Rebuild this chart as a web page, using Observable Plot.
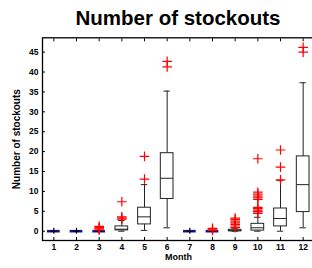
<!DOCTYPE html>
<html>
<head>
<meta charset="utf-8">
<script src="https://cdn.jsdelivr.net/npm/d3@7"></script>
<script src="https://cdn.jsdelivr.net/npm/@observablehq/plot@0.6"></script>
<style>
  html, body { margin: 0; padding: 0; background: #fff; overflow: hidden; }
  #title { font-family: "Liberation Sans", Arial, sans-serif; font-weight: bold; font-size: 20.5px;
           line-height: 30px; padding-top: 3px; padding-left: 44px; width: 268px; text-align: center; color: #000; white-space: nowrap; }
</style>
</head>
<body>
<div id="title">Number of stockouts</div>
<div id="chart"></div>
<script>
const months = [1, 2, 3, 4, 5, 6, 7, 8, 9, 10, 11, 12];
const q1 = [0, 0, 0, 0.2, 1.7, 8.1, 0, 0, 0, 0.15, 1.2, 4.8];
const med = [0, 0, 0, 0.5, 3.6, 13.3, 0, 0, 0.1, 0.85, 3.2, 11.7];
const q3 = [0, 0, 0, 1.2, 5.9, 19.6, 0, 0, 0.35, 1.85, 5.7, 18.8];
const whiskerLo = [0, 0, 0, 0, 0.2, 0.85, 0, 0, 0, 0, 0, 0.85];
const whiskerHi = [0, 0, 0, 2.7, 11.7, 35.2, 0, 0, 0.6, 3.5, 12.7, 37.3];
const outliers = [
  [],
  [],
  [0.3, 0.6, 0.9, 1.2],
  [3.0, 3.3, 3.6, 7.4],
  [13.1, 18.8],
  [41.3, 42.7],
  [],
  [0.2, 0.5, 0.7],
  [0.9, 1.3, 1.7, 2.1, 2.5, 2.9, 3.3],
  [4.5, 4.9, 5.3, 5.7, 6.0, 8.0, 8.4, 8.8, 9.3, 9.8, 18.2],
  [12.9, 16.1, 20.4],
  [45.0, 46.2]
];
const yTicks = [0, 5, 10, 15, 20, 25, 30, 35, 40, 45];
const xLabel = "Month";
const yLabel = "Number of stockouts";

const stats = months.map((m, i) => ({month: m, q1: q1[i], med: med[i], q3: q3[i], lo: whiskerLo[i], hi: whiskerHi[i]}));
const boxes = stats.filter(d => d.q3 > d.q1);
const flat = stats.filter(d => d.q3 === d.q1);
const outs = months.flatMap((m, i) => outliers[i].map(v => ({month: m, value: v})));

const bw = 0.28;   // half box width (month units)
const cw = 0.14;   // half cap width
const font = "Liberation Sans, Arial, sans-serif";

const chart = Plot.plot({
  width: 314,
  height: 235,
  marginLeft: 42,
  marginRight: 0,
  marginTop: 4.3,
  marginBottom: 28,
  style: {fontFamily: font, color: "#000", background: "#fff", maxWidth: "none", overflow: "hidden"},
  x: {domain: [0.5, 12.5]},
  y: {domain: [-2.34, 48.6]},
  marks: [
    Plot.frame({stroke: "#000", strokeWidth: 1.3}),
    Plot.axisX({anchor: "bottom", ticks: months, tickSize: -3, tickPadding: 6.5, fontWeight: "bold", fontSize: 8.5, label: null, tickFormat: d => String(d)}),
    Plot.axisX({anchor: "top", ticks: months, tickSize: -3, tickFormat: () => "", label: null}),
    Plot.axisY({anchor: "left", ticks: yTicks, tickSize: -3, tickPadding: 7, fontWeight: "bold", fontSize: 8.5, label: null, tickFormat: d => String(d)}),
    Plot.axisY({anchor: "right", ticks: yTicks, tickSize: -3, tickFormat: () => "", label: null}),
    // whiskers
    Plot.ruleX(boxes, {x: "month", y1: "hi", y2: "q3", stroke: "#222", strokeWidth: 1}),
    Plot.ruleX(boxes, {x: "month", y1: "lo", y2: "q1", stroke: "#222", strokeWidth: 1}),
    Plot.ruleY(boxes, {y: "hi", x1: d => d.month - cw, x2: d => d.month + cw, stroke: "#222", strokeWidth: 1}),
    Plot.ruleY(boxes, {y: "lo", x1: d => d.month - cw, x2: d => d.month + cw, stroke: "#222", strokeWidth: 1}),
    // boxes
    Plot.rect(boxes, {x1: d => d.month - bw, x2: d => d.month + bw, y1: "q1", y2: "q3", fill: "#fff", stroke: "#222", strokeWidth: 1}),
    Plot.ruleY(boxes, {y: "med", x1: d => d.month - bw, x2: d => d.month + bw, stroke: "#222", strokeWidth: 1}),
    // degenerate boxes
    Plot.ruleY(flat, {y: "med", x1: d => d.month - bw, x2: d => d.month + bw, stroke: "#14148a", strokeWidth: 2.6}),
    Plot.ruleY(flat, {y: "med", x1: d => d.month - cw, x2: d => d.month + cw, stroke: "#000", strokeWidth: 1}),
    Plot.ruleX(flat, {x: "month", y: "med", stroke: "#000", strokeWidth: 1.2, insetTop: -3, insetBottom: -3}),
    // outliers
    Plot.dot(outs, {x: "month", y: "value", symbol: "plus", r: 3.2, stroke: "#ff0000", strokeWidth: 1.2}),
    // axis titles
    Plot.text([yLabel], {frameAnchor: "left", dx: -26, rotate: -90, textAnchor: "middle", lineAnchor: "middle", text: d => d, fontWeight: "bold", fontSize: 10, fill: "#000"}),
    Plot.text([xLabel], {frameAnchor: "bottom", dy: 19.5, text: d => d, fontWeight: "bold", fontSize: 9, fill: "#000"})
  ]
});
document.getElementById("chart").appendChild(chart);
</script>
</body>
</html>
